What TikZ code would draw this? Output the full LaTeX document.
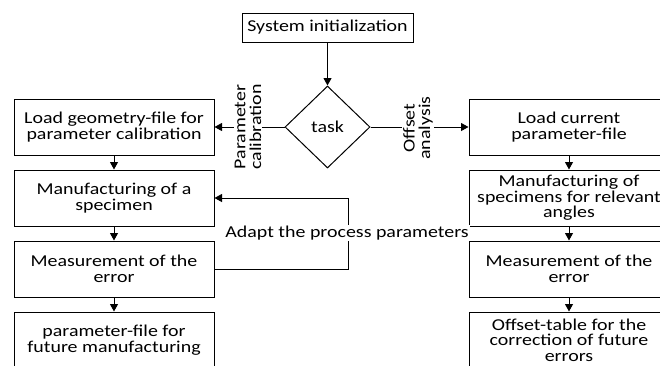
\documentclass[tikz,border=0pt]{standalone}
\usepackage{fontspec}
\setmainfont{Carlito}[FakeStretch=1.2]
\usetikzlibrary{shapes.geometric,arrows.meta}
\begin{document}
\begin{tikzpicture}[x=1pt,y=-1pt,
  every node/.style={font=\fontsize{16.6}{15.6}\selectfont},
  stepbox/.style={draw,line width=1pt,minimum width=200pt,minimum height=56pt,
    inner sep=0pt,align=center},
  decision/.style={draw,line width=1pt,diamond,minimum width=85pt,minimum height=82pt,
    inner sep=0pt},
  flow/.style={line width=1pt,-{Triangle[width=8pt,length=7.5pt]}},
  tag/.style={fill=white,inner sep=1pt,align=center}]
\useasboundingbox (0,0) rectangle (660,365);

% start and decision
\node[draw,line width=1pt,minimum width=171pt,minimum height=29pt,inner sep=0pt]
  (init) at (327.5,27.5) {System initialization};
\node[decision] (task) at (327.5,127) {task};

% calibration branch
\node[stepbox] (l1) at (114,127) {Load geometry-file for\\parameter calibration};
\node[stepbox] (l2) at (114,198) {Manufacturing of a\\specimen};
\node[stepbox] (l3) at (114,269) {Measurement of the\\error};
\node[stepbox] (l4) at (114,340) {parameter-file for\\future manufacturing};

% offset branch
\node[stepbox] (r1) at (569,127) {Load current\\parameter-file};
\node[stepbox] (r2) at (569,198) {Manufacturing of\\specimens for relevant\\angles};
\node[stepbox] (r3) at (569,269) {Measurement of the\\error};
\node[stepbox] (r4) at (569,340) {Offset-table for the\\correction of future\\errors};

% connectors
\draw[flow] (init) -- (task);
\draw[flow] (task.west) -- (l1.east);
\draw[flow] (task.east) -- (r1.west);
\draw[flow] (l1) -- (l2);
\draw[flow] (l2) -- (l3);
\draw[flow] (l3) -- (l4);
\draw[flow] (r1) -- (r2);
\draw[flow] (r2) -- (r3);
\draw[flow] (r3) -- (r4);

% feedback loop
\coordinate (loopx) at (348,0);
\draw[flow] (l3.east) -- (l3.east -| loopx) -- (l2.east -| loopx) -- (l2.east);

% labels on the connectors
\node[tag,rotate=90] (pc) at (248,127) {Parameter\\calibration};
\node[tag,rotate=90] (oa) at (418,128) {Offset\\analysis};
\node[tag] (adapt) at (347,233) {Adapt the process parameters};
\end{tikzpicture}
\end{document}
